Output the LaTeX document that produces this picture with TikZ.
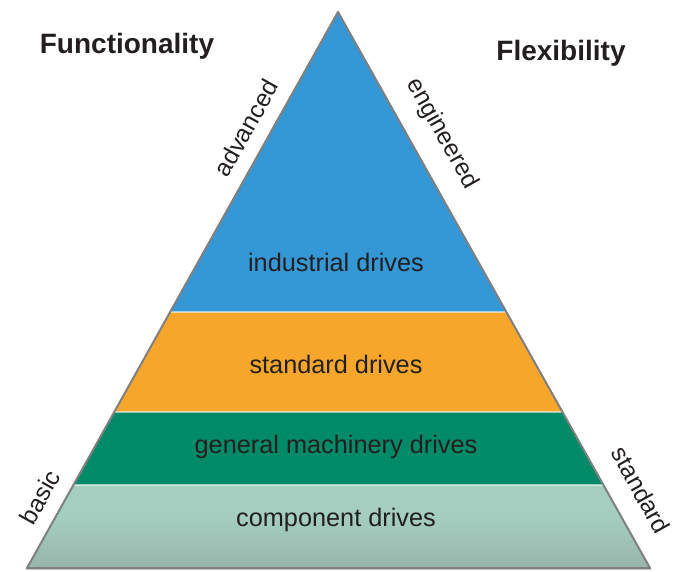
\documentclass[tikz,border=0pt]{standalone}
\usepackage{fontspec}
\setmainfont{Liberation Sans}
\usetikzlibrary{calc}
\definecolor{cblue}{HTML}{3497D6}
\definecolor{corange}{HTML}{F6A72B}
\definecolor{cgreen}{HTML}{008A68}
\definecolor{cteal}{HTML}{A4CEC0}
\definecolor{ctext}{HTML}{231F20}
\tikzset{
  bandlabel/.style={text=ctext, font=\fontsize{25.3}{30}\selectfont},
  sidelabel/.style={text=ctext, font=\fontsize{24.5}{29}\selectfont, inner sep=0pt},
  title/.style={text=ctext, font=\bfseries\fontsize{28}{33}\selectfont},
  sep/.style={draw=white, opacity=0.55, line width=1.2pt},
  rim/.style={draw=black!50, line width=2pt, line join=round}
}
\begin{document}
\begin{tikzpicture}[x=1pt,y=-1pt]
\useasboundingbox (0,0) rectangle (683,572);
\coordinate (A) at (338,12);
\coordinate (BL) at (27,568);
\coordinate (BR) at (650,568);
\coordinate (L1) at ($(A)!0.5396!(BL)$);
\coordinate (R1) at ($(A)!0.5396!(BR)$);
\coordinate (L2) at ($(A)!0.7194!(BL)$);
\coordinate (R2) at ($(A)!0.7194!(BR)$);
\coordinate (L3) at ($(A)!0.8507!(BL)$);
\coordinate (R3) at ($(A)!0.8507!(BR)$);
% soft shadow rim
\fill[black!30] ($(A)+(0,-1.5)$) -- ($(BL)+(-1.5,1.5)$) -- ($(BR)+(1.5,1.5)$) -- cycle;
% bands
\fill[cblue] (A) -- (L1) -- (R1) -- cycle;
\fill[corange] (L1) -- (L2) -- (R2) -- (R1) -- cycle;
\fill[cgreen] (L2) -- (L3) -- (R3) -- (R2) -- cycle;
\fill[cteal] (L3) -- (BL) -- (BR) -- (R3) -- cycle;
% bevel shading on the bottom band
\shade[top color=cteal, bottom color=cteal!60!black!70, opacity=0.6]
  ($(BL)!0.6!(L3)$) -- (BL) -- (BR) -- ($(BR)!0.6!(R3)$) -- cycle;
% separators
\draw[sep] (L1) -- (R1);
\draw[sep] (L2) -- (R2);
\draw[sep] (L3) -- (R3);
% rim
\draw[rim] (A) -- (BL) -- (BR) -- cycle;
% band labels
\node[bandlabel] (t1) at (336,262) {industrial drives};
\node[bandlabel] (t2) at (336,364) {standard drives};
\node[bandlabel] (t3) at (336,447) {general machinery drives};
\node[bandlabel] (t4) at (336,520) {component drives};
% titles
\node[title] (f1) at (127,46) {Functionality};
\node[title] (f2) at (561,53) {Flexibility};
% side labels
\node[sidelabel, rotate=60.8] (s1) at (246,128) {advanced};
\node[sidelabel, rotate=-60.8] (s2) at (442,134) {engineered};
\node[sidelabel, rotate=60.8] (s3) at (40,497) {basic};
\node[sidelabel, rotate=-60.8] (s4) at (641,490) {standard};
\end{tikzpicture}
\end{document}
